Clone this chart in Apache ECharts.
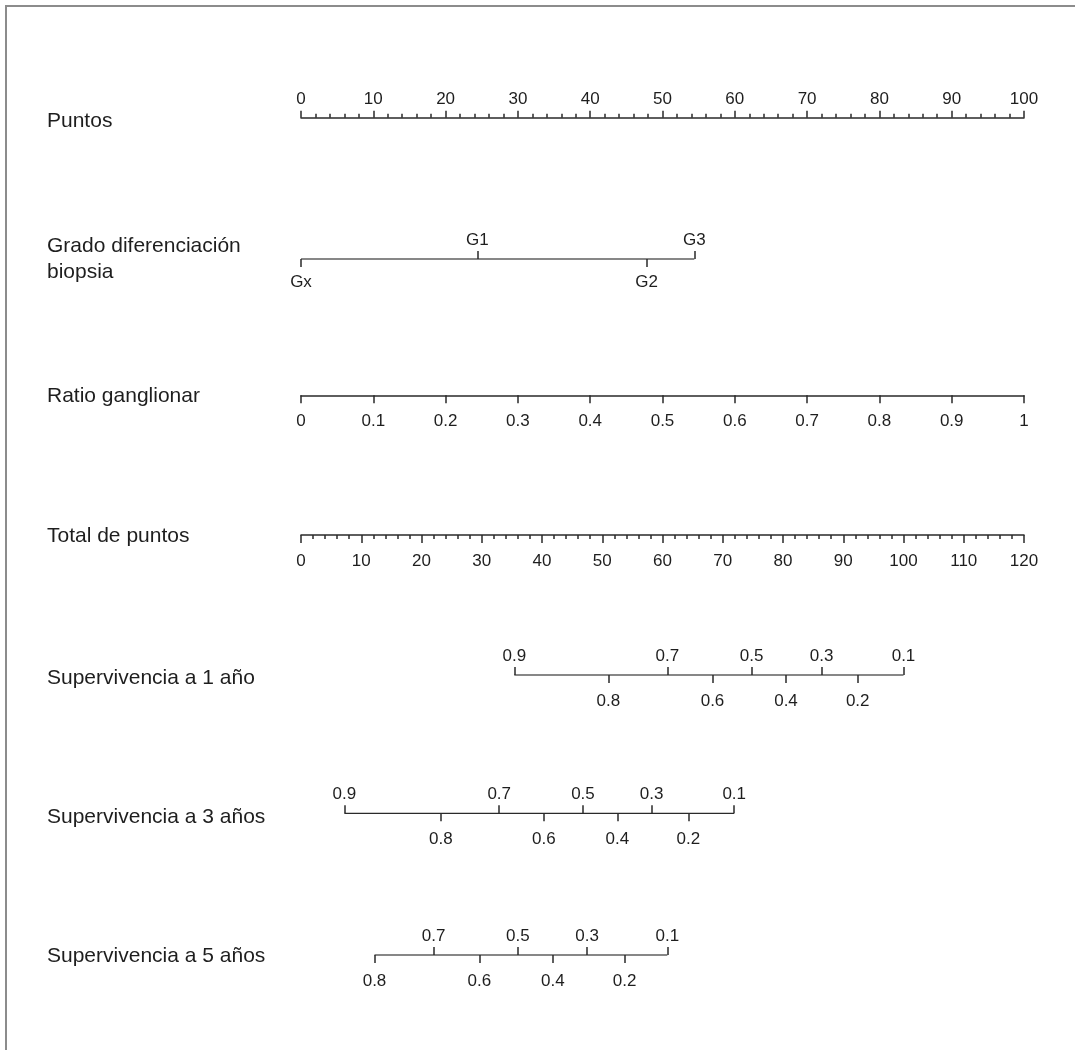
<!DOCTYPE html>
<html>
<head>
<meta charset="utf-8">
<title>Nomograma</title>
<script src="https://cdn.jsdelivr.net/npm/echarts@6/dist/echarts.min.js"></script>
<style>
  html, body { margin: 0; padding: 0; background: #fff; }
  #chart { width: 1075px; height: 1050px; }
</style>
</head>
<body>
<div id="chart"></div>
<script>
// ---- Data ----
const rowNames = [
  'Puntos',
  'Grado diferenciación\nbiopsia',
  'Ratio ganglionar',
  'Total de puntos',
  'Supervivencia a 1 año',
  'Supervivencia a 3 años',
  'Supervivencia a 5 años'
];

const pointsTicks = [0, 10, 20, 30, 40, 50, 60, 70, 80, 90, 100];
const ratioTicks = [0, 0.1, 0.2, 0.3, 0.4, 0.5, 0.6, 0.7, 0.8, 0.9, 1];
const totalTicks = [0, 10, 20, 30, 40, 50, 60, 70, 80, 90, 100, 110, 120];

// Grado de diferenciación: points per category
const gradeNames = ['Gx', 'G1', 'G2', 'G3'];
const gradePoints = [0, 24.4, 47.8, 54.4];

// Survival probability vs. total points
const surv1Prob = [0.9, 0.8, 0.7, 0.6, 0.5, 0.4, 0.3, 0.2, 0.1];
const surv1Total = [35.4, 51.0, 60.8, 68.3, 74.8, 80.5, 86.4, 92.4, 100.0];

const surv3Prob = [0.9, 0.8, 0.7, 0.6, 0.5, 0.4, 0.3, 0.2, 0.1];
const surv3Total = [7.2, 23.2, 32.9, 40.3, 46.8, 52.5, 58.2, 64.3, 71.9];

const surv5Prob = [0.8, 0.7, 0.6, 0.5, 0.4, 0.3, 0.2, 0.1];
const surv5Total = [12.2, 22.0, 29.6, 36.0, 41.8, 47.5, 53.7, 60.8];

// ---- Layout / style ----
const AX_LEFT = 301;
const AX_WIDTH = 723;
const ROW_Y = [117.7, 259, 395.3, 535, 675, 813.3, 955];
const TITLE_Y = [121, 259, 396, 536, 678, 817, 956];
const LINE = '#2a2a2a';
const TEXT = '#1e1e1e';
const FONT = "'Liberation Sans', Arial, sans-serif";
const TICK_FS = 17;
const NAME_FS = 21;
const UP_MARGIN = 10;
const DOWN_MARGIN = 18;
const lineStyle = { color: LINE, width: 1.5 };

const grids = [], xAxes = [], yAxes = [], series = [];

function addGrid(y) {
  grids.push({ left: AX_LEFT, width: AX_WIDTH, top: y, height: 0 });
  const g = grids.length - 1;
  yAxes.push({ type: 'value', gridIndex: g, min: 0, max: 1, show: false });
  return g;
}

function baseAxis(g, pos, min, max) {
  return {
    type: 'value', gridIndex: g, position: pos, min: min, max: max,
    splitLine: { show: false },
    axisLine: { show: false },
    axisTick: { show: false },
    axisLabel: { show: false }
  };
}

function fmtNum(v) {
  return String(Math.round(v * 1000) / 1000);
}

// Regular scale axis with evenly spaced ticks
function scaleAxis(g, pos, ticks, tickLen, minorSplit, margin) {
  const ax = baseAxis(g, pos, ticks[0], ticks[ticks.length - 1]);
  ax.interval = ticks[1] - ticks[0];
  ax.axisLine = { show: true, lineStyle: lineStyle };
  ax.axisTick = { show: true, length: tickLen, lineStyle: lineStyle };
  if (minorSplit) {
    ax.minorTick = { show: true, splitNumber: minorSplit, length: 4, lineStyle: lineStyle };
    ax.minorSplitLine = { show: false };
  }
  ax.axisLabel = {
    show: true, margin: margin, fontSize: TICK_FS, color: TEXT, fontFamily: FONT,
    showMinLabel: true, showMaxLabel: true, formatter: fmtNum
  };
  xAxes.push(ax);
}

// Axis with labelled marks at arbitrary positions, alternating above/below
function markerAxis(g, min, max, positions, labels, isUp, downMargin) {
  const upVals = [], downVals = [];
  positions.forEach(function (p, i) { (isUp(i) ? upVals : downVals).push(p); });
  const fmt = function (v) {
    const i = positions.findIndex(function (p) { return Math.abs(p - v) < 1e-9; });
    return i < 0 ? '' : labels[i];
  };
  const mk = function (pos, vals, margin) {
    const ax = baseAxis(g, pos, min, max);
    ax.axisTick = { show: true, length: 8, customValues: vals, lineStyle: lineStyle };
    ax.axisLabel = {
      show: true, customValues: vals, margin: margin, fontSize: TICK_FS,
      color: TEXT, fontFamily: FONT, formatter: fmt
    };
    xAxes.push(ax);
    return xAxes.length - 1;
  };
  const topIdx = mk('top', upVals, UP_MARGIN);
  mk('bottom', downVals, downMargin);
  series.push({
    type: 'line', xAxisIndex: topIdx, yAxisIndex: g, silent: true,
    symbol: 'none', animation: false, lineStyle: lineStyle,
    data: [[positions[0], 0], [positions[positions.length - 1], 0]]
  });
}

// Puntos
scaleAxis(addGrid(ROW_Y[0]), 'top', pointsTicks, 7, 5, UP_MARGIN);

// Grado diferenciación biopsia
markerAxis(addGrid(ROW_Y[1]), pointsTicks[0], pointsTicks[pointsTicks.length - 1],
  gradePoints, gradeNames, function (i) { return i % 2 === 1; }, 15);

// Ratio ganglionar
scaleAxis(addGrid(ROW_Y[2]), 'bottom', ratioTicks, 8, 0, DOWN_MARGIN);

// Total de puntos
scaleAxis(addGrid(ROW_Y[3]), 'bottom', totalTicks, 8, 5, DOWN_MARGIN);

// Survival rows
const oddTenth = function (probs) {
  return function (i) { return Math.round(probs[i] * 10) % 2 === 1; };
};
const tMin = totalTicks[0], tMax = totalTicks[totalTicks.length - 1];
markerAxis(addGrid(ROW_Y[4]), tMin, tMax, surv1Total, surv1Prob.map(fmtNum), oddTenth(surv1Prob), DOWN_MARGIN);
markerAxis(addGrid(ROW_Y[5]), tMin, tMax, surv3Total, surv3Prob.map(fmtNum), oddTenth(surv3Prob), DOWN_MARGIN);
markerAxis(addGrid(ROW_Y[6]), tMin, tMax, surv5Total, surv5Prob.map(fmtNum), oddTenth(surv5Prob), DOWN_MARGIN);

// Row titles and frame
const graphics = rowNames.map(function (name, i) {
  return {
    type: 'text', x: 47, y: TITLE_Y[i], silent: true,
    style: {
      text: name, fontSize: NAME_FS, fontFamily: FONT, fill: TEXT,
      lineHeight: 26, align: 'left', verticalAlign: 'middle'
    }
  };
});
graphics.push({
  type: 'polyline', silent: true,
  shape: { points: [[6, 1050], [6, 6], [1075, 6]] },
  style: { stroke: '#8c8c8c', lineWidth: 2, fill: null }
});

const chart = echarts.init(document.getElementById('chart'), null, { renderer: 'canvas' });
chart.setOption({
  backgroundColor: '#ffffff',
  animation: false,
  grid: grids,
  xAxis: xAxes,
  yAxis: yAxes,
  series: series,
  graphic: graphics
});
</script>
</body>
</html>
